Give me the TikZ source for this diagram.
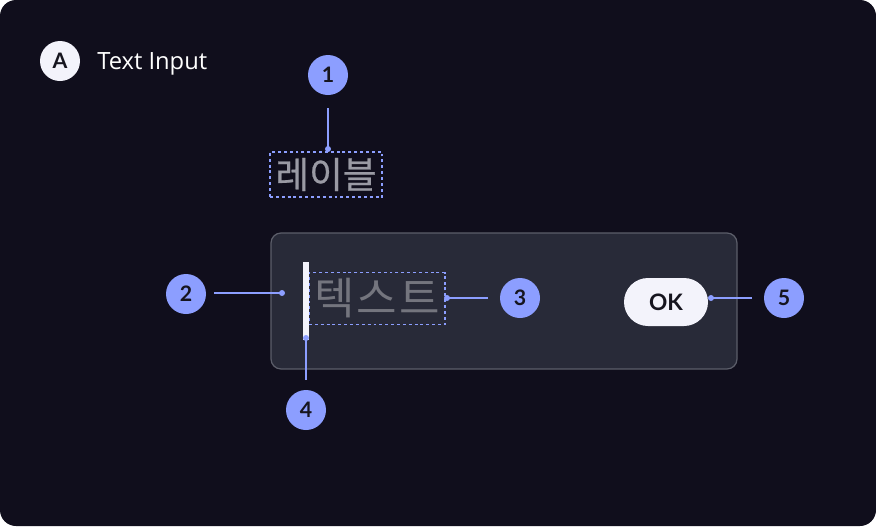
\documentclass[tikz,border=0pt]{standalone}
\usepackage{fontspec}
\setmainfont{Lato}
\newfontfamily\titlefont{Open Sans}
\newfontfamily\cjk{Noto Sans CJK KR}[FakeBold=0.6]
\newfontfamily\cjkhint{Noto Sans CJK KR}[LetterSpace=5]
\definecolor{canvas}{HTML}{100E1C}
\definecolor{field}{HTML}{282A38}
\definecolor{fieldline}{HTML}{5C5E6A}
\definecolor{marker}{HTML}{8C9EFF}
\definecolor{ink}{HTML}{16151F}
\definecolor{pale}{HTML}{F3F3FB}
\definecolor{labelgray}{HTML}{9A9AA4}
\definecolor{hintgray}{HTML}{74757E}
\begin{document}
\begin{tikzpicture}[x=0.75pt,y=-0.75pt,
  badge/.style={circle,fill=marker,text=ink,font=\bfseries\fontsize{16}{16}\selectfont,minimum size=30pt,inner sep=0pt},
  lead/.style={draw=marker,line width=0.9pt},
  tip/.style={circle,fill=marker,inner sep=0pt,minimum size=4.5pt},
  outline/.style={draw=marker,line width=0.8pt,dash pattern=on 2.2pt off 2.2pt,inner sep=0pt}]

  % canvas
  \fill[white] (0,0) rectangle (876,526);
  \fill[canvas,rounded corners=12pt] (0,0) rectangle (876,526);

  % header
  \node[circle,fill=pale,text=ink,font=\bfseries\fontsize{16}{16}\selectfont,minimum size=30pt,inner sep=0pt] (A) at (60,61) {A};
  \node[anchor=base west,text=white,font=\titlefont\fontsize{17.8}{17.8}\selectfont,inner sep=0pt] (title) at (97,69) {Text Input};

  % label
  \node[outline,minimum width=84pt,minimum height=33.75pt,text=labelgray,font=\cjk\fontsize{27.5}{27.5}\selectfont] (label) at (326,174.5) {레이블};

  % input field
  \draw[fill=field,draw=fieldline,line width=0.9pt,rounded corners=7.5pt] (271,233) rectangle (737,369);
  \node[outline,minimum width=102pt,minimum height=39pt,text=hintgray,font=\cjkhint\fontsize{33}{33}\selectfont] (hint) at (377,298.5) {텍스트\hspace{-2pt}};
  \fill[pale] (303,262) rectangle (309,340);
  \coordinate (cursor) at (306,338);
  \node[rounded corners=18pt,fill=pale,text=ink,font=\bfseries\fontsize{17}{17}\selectfont,minimum width=63pt,minimum height=36pt,inner sep=0pt] (ok) at (666,302) {OK};

  % markers
  \node[badge] (1) at (328,75) {1};
  \node[badge] (2) at (186,294) {2};
  \node[badge] (3) at (520,298) {3};
  \node[badge] (4) at (306,410) {4};
  \node[badge] (5) at (784,298) {5};

  \node[tip] (t1) at (328,149) {};
  \node[tip] (t2) at (282,293) {};
  \node[tip] (t3) at (447,298) {};
  \node[tip] (t4) at (cursor) {};
  \node[tip] (t5) at (711,298) {};

  \draw[lead] (328,108) -- (t1.center);
  \draw[lead] (214,293) -- (t2.center);
  \draw[lead] (t3.center) -- (488,298);
  \draw[lead] (t4.center) -- (306,380);
  \draw[lead] (t5.center) -- (752,298);
\end{tikzpicture}
\end{document}
